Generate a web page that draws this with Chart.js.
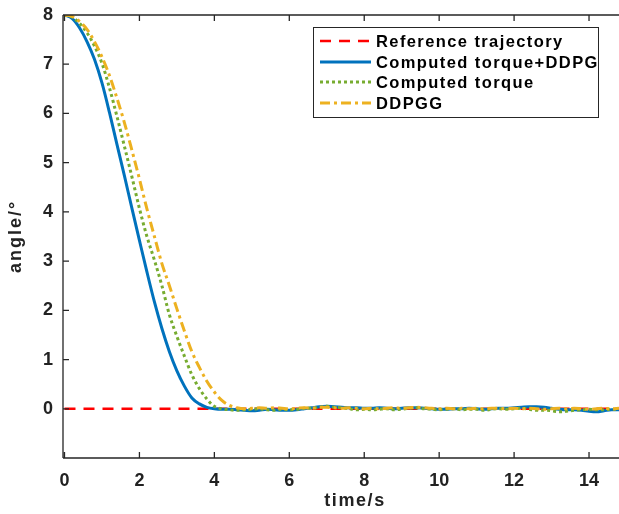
<!DOCTYPE html>
<html><head><meta charset="utf-8">
<script src="https://cdn.jsdelivr.net/npm/chart.js@4/dist/chart.umd.min.js"></script>
<style>html,body{margin:0;padding:0;background:#fff;overflow:hidden}</style>
</head><body>
<canvas id="c" width="619" height="514" style="display:block;width:619px;height:514px"></canvas>
<script>
// ---- data ----
const timeS = [0,0.2,0.4,0.6,0.8,1.0,1.2,1.4,1.6,1.8,2.0,2.2,2.4,2.6,2.8,3.0,3.2,3.4,3.6,3.8,
  4.0,4.2,4.4,4.6,4.8,5.0,5.2,5.4,5.6,5.8,6.0,6.2,6.4,6.6,6.8,7.0,7.2,7.4,7.6,7.8,
  8.0,8.2,8.4,8.6,8.8,9.0,9.2,9.4,9.6,9.8,10.0,10.2,10.4,10.6,10.8,11.0,11.2,11.4,11.6,11.8,
  12.0,12.2,12.4,12.6,12.8,13.0,13.2,13.4,13.6,13.8,14.0,14.2,14.4,14.6,14.8];
const refTimes = [0, 14.8];
const refValues = [0, 0];
const ctDdpg = [8,7.93,7.74,7.46,7.10,6.62,6.02,5.37,4.73,4.07,3.42,2.78,2.17,1.63,1.16,0.77,0.46,0.22,0.10,0.03,
  0.00,-0.01,-0.01,-0.02,-0.03,-0.04,-0.03,-0.01,-0.02,-0.03,-0.03,-0.02,0.00,0.02,0.04,0.05,0.04,0.03,0.02,0.02,
  0.01,0.01,0.02,0.01,0.00,0.01,0.02,0.02,0.01,0.00,-0.01,-0.01,0.00,0.00,0.01,0.00,-0.01,0.00,0.01,0.01,
  0.02,0.03,0.04,0.04,0.03,0.01,-0.01,-0.02,-0.02,-0.03,-0.05,-0.06,-0.04,-0.02,-0.02];
const ctOnly = [8,7.96,7.83,7.64,7.37,7.02,6.52,5.94,5.33,4.71,4.07,3.5,3.02,2.5,1.91,1.47,1.07,0.69,0.41,0.20,
  0.05,0.00,-0.02,-0.03,-0.02,-0.01,0.00,-0.02,-0.03,-0.01,-0.02,-0.01,0.01,0.01,0.03,0.05,0.03,0.02,0.00,-0.02,
  -0.01,-0.02,-0.01,0.00,-0.02,-0.01,0.01,0.02,0.00,-0.01,-0.02,-0.01,0.00,-0.02,-0.01,-0.01,-0.03,-0.01,0.00,-0.01,
  0.00,0.01,-0.01,-0.03,-0.03,-0.04,-0.06,-0.05,-0.03,-0.02,-0.01,-0.02,-0.02,-0.01,-0.01];
const ddpgg = [8,7.97,7.87,7.71,7.46,7.15,6.77,6.31,5.81,5.25,4.67,4.06,3.5,2.95,2.5,2.03,1.58,1.16,0.84,0.56,
  0.34,0.17,0.07,0.02,0.00,0.01,0.02,0.01,0.02,0.01,0.00,0.01,0.02,0.01,0.03,0.03,0.02,0.01,0.02,0.01,
  0.00,0.01,0.00,0.01,0.02,0.01,0.02,0.03,0.02,0.01,0.00,0.01,0.00,0.01,0.00,0.01,0.00,0.01,0.01,0.00,
  0.01,0.00,0.01,0.00,-0.01,0.00,0.01,0.00,0.01,0.00,-0.01,0.00,0.01,0.00,0.01];
const xTicks = [0,2,4,6,8,10,12,14];
const yTicks = [0,1,2,3,4,5,6,7,8];
const seriesLabels = ['Reference trajectory','Computed torque+DDPG','Computed torque','DDPGG'];
const xTitle = 'time/s';
const yTitle = 'angle/°';

// ---- chart ----
const AX = '#262626';
const FONT = '"Liberation Sans", Arial, Helvetica, sans-serif';
const pairs = (xs, ys) => xs.map((t, i) => ({x: t, y: ys[i]}));

const framePlugin = {
  id: 'frame',
  afterDatasetsDraw(chart) {
    const {ctx, chartArea: a, scales: {x, y}} = chart;
    ctx.save();
    ctx.strokeStyle = AX; ctx.lineWidth = 1.3;
    ctx.beginPath();
    ctx.moveTo(a.left, a.top); ctx.lineTo(a.right + 2, a.top);
    ctx.moveTo(a.left, a.top); ctx.lineTo(a.left, a.bottom);
    ctx.moveTo(a.left, a.bottom); ctx.lineTo(a.right + 2, a.bottom);
    xTicks.forEach(v => {
      const p = x.getPixelForValue(v);
      ctx.moveTo(p, a.bottom); ctx.lineTo(p, a.bottom - 6);
      ctx.moveTo(p, a.top); ctx.lineTo(p, a.top + 6);
    });
    yTicks.forEach(v => {
      const p = y.getPixelForValue(v);
      ctx.moveTo(a.left, p); ctx.lineTo(a.left + 6, p);
    });
    ctx.stroke();
    // axis titles
    ctx.fillStyle = '#222';
    ctx.font = 'bold 18px ' + FONT;
    ctx.textAlign = 'center'; ctx.textBaseline = 'middle';
    ctx.letterSpacing = '1.6px';
    ctx.fillText(xTitle, 355, 501);
    ctx.translate(16, (a.top + a.bottom) / 2);
    ctx.rotate(-Math.PI / 2);
    ctx.letterSpacing = '2px';
    ctx.fillText(yTitle, 0, 0);
    ctx.restore();
  },
  afterDraw(chart) {
    const {ctx} = chart;
    const ds = chart.data.datasets;
    ctx.save();
    const bx = 313.5, by = 27.5, bw = 285, bh = 90;
    ctx.fillStyle = '#fff';
    ctx.fillRect(bx, by, bw, bh);
    ctx.strokeStyle = AX; ctx.lineWidth = 1;
    ctx.strokeRect(bx, by, bw, bh);
    const rows = [41, 62, 82, 103];
    ds.forEach((d, i) => {
      const yy = rows[i];
      ctx.beginPath();
      ctx.setLineDash(d.borderDash || []);
      ctx.strokeStyle = d.borderColor; ctx.lineWidth = d.borderWidth;
      ctx.moveTo(320, yy); ctx.lineTo(371, yy);
      ctx.stroke();
      ctx.setLineDash([]);
      ctx.fillStyle = '#000';
      ctx.font = 'bold 16.5px ' + FONT;
      ctx.letterSpacing = '1.4px';
      ctx.textAlign = 'left'; ctx.textBaseline = 'middle';
      ctx.fillText(d.label, 376, yy + 1);
    });
    ctx.restore();
  }
};

new Chart(document.getElementById('c'), {
  type: 'line',
  data: {
    datasets: [
      {label: seriesLabels[0], data: pairs(refTimes, refValues), borderColor: '#FF0000', borderWidth: 2.5, borderDash: [11, 8], order: 4},
      {label: seriesLabels[1], data: pairs(timeS, ctDdpg), borderColor: '#0072BD', borderWidth: 3, order: 3},
      {label: seriesLabels[2], data: pairs(timeS, ctOnly), borderColor: '#77AC30', borderWidth: 3, borderDash: [3, 3], order: 2},
      {label: seriesLabels[3], data: pairs(timeS, ddpgg), borderColor: '#EDB120', borderWidth: 3, borderDash: [10, 4, 3, 4], order: 1}
    ]
  },
  options: {
    responsive: false,
    devicePixelRatio: 1,
    animation: false,
    layout: {padding: {top: 15, right: 0, left: 0, bottom: 0}},
    elements: {point: {radius: 0}, line: {cubicInterpolationMode: 'monotone', fill: false}},
    plugins: {legend: {display: false}, tooltip: {enabled: false}},
    scales: {
      x: {
        type: 'linear', min: -0.04, max: 14.8,
        afterFit(s) { s.height = 56; s.paddingLeft = 0; s.paddingRight = 0; },
        afterBuildTicks(s) { s.ticks = xTicks.map(v => ({value: v})); },
        grid: {display: false, drawTicks: false},
        border: {display: false},
        ticks: {padding: 12, color: '#222', font: {family: FONT, size: 18, weight: 'bold'}, maxRotation: 0}
      },
      y: {
        type: 'linear', min: -1, max: 8,
        afterFit(s) { s.width = 63; s.paddingTop = 0; s.paddingBottom = 0; },
        afterBuildTicks(s) { s.ticks = yTicks.map(v => ({value: v})); },
        grid: {display: false, drawTicks: false},
        border: {display: false},
        ticks: {padding: 10, color: '#222', font: {family: FONT, size: 18, weight: 'bold'}}
      }
    }
  },
  plugins: [framePlugin]
});
</script>
</body></html>
